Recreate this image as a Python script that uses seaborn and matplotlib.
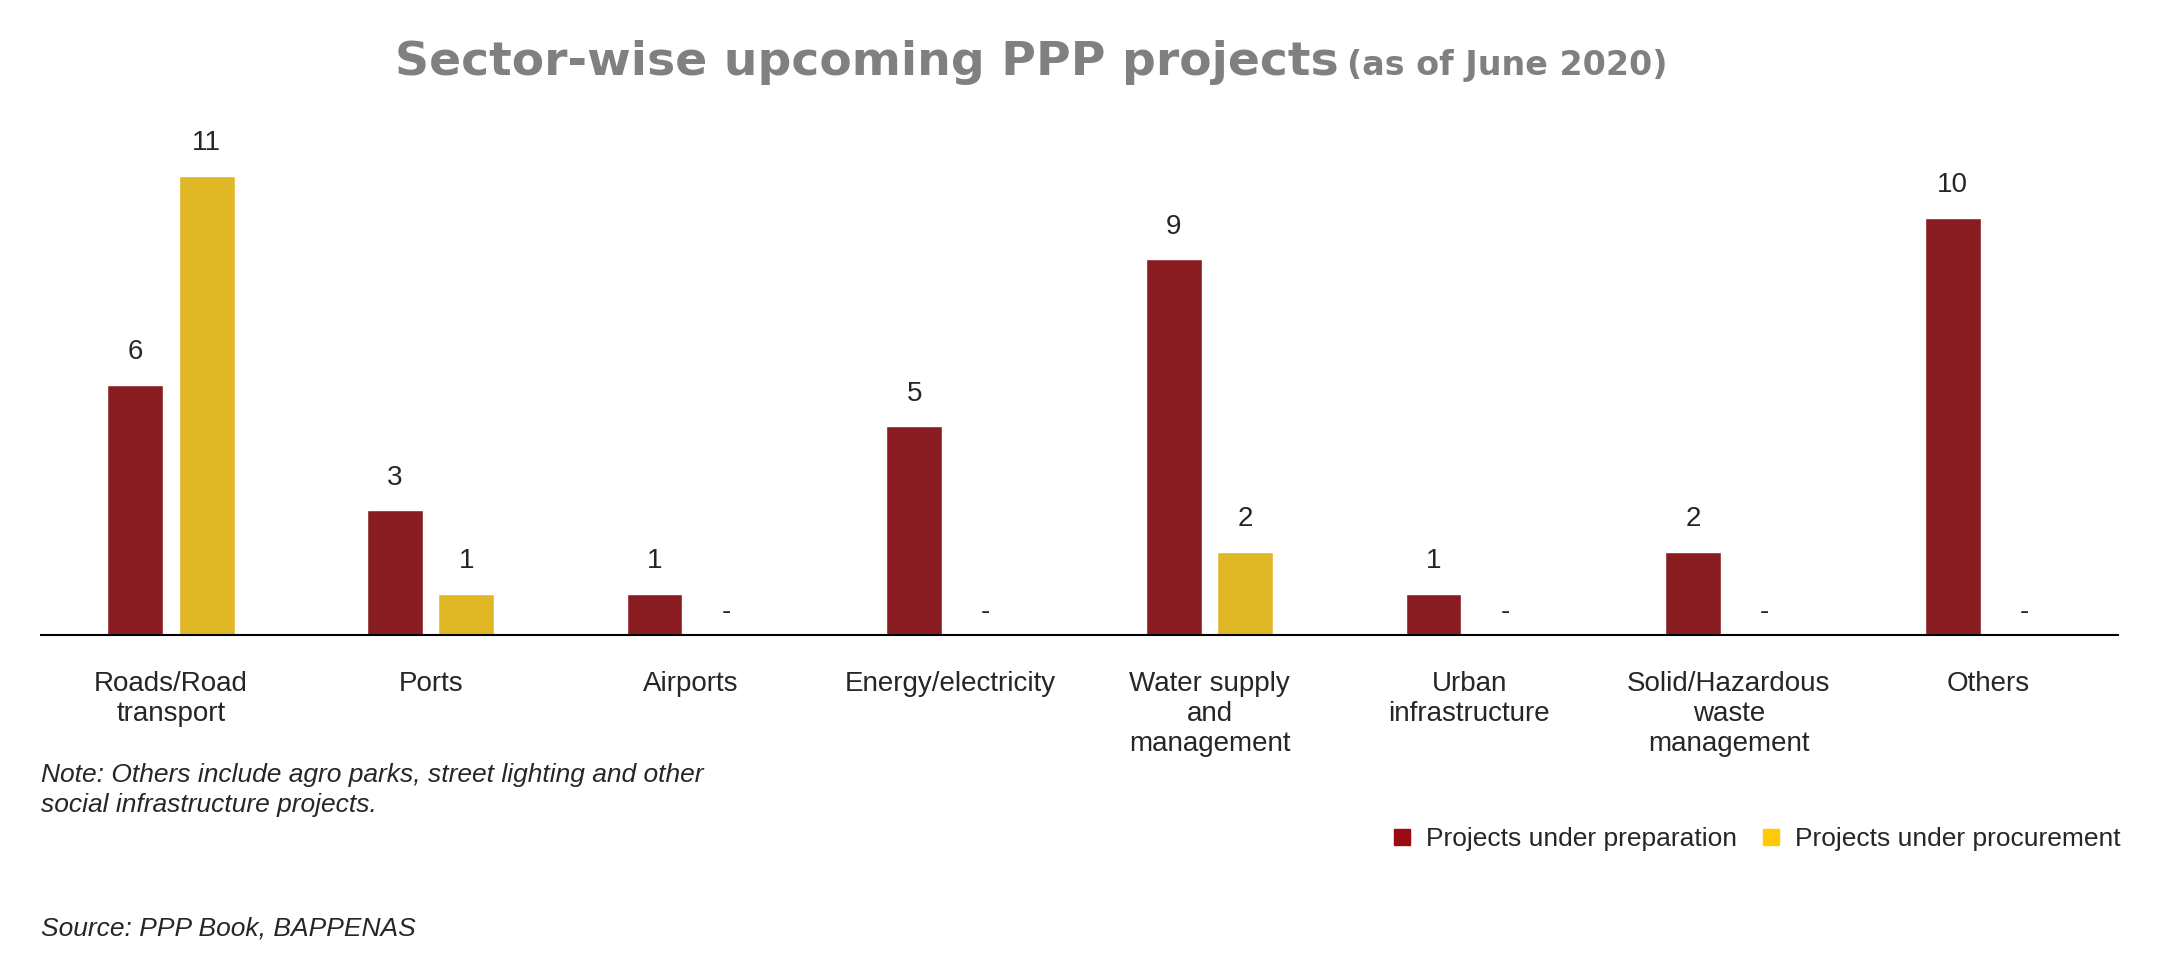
import numpy as np
import pandas as pd
import matplotlib
matplotlib.use("Agg")
import matplotlib.pyplot as plt
import seaborn as sns

sectors = ["Roads/Road\ntransport", "Ports", "Airports", "Energy/electricity",
           "Water supply\nand\nmanagement", "Urban\ninfrastructure",
           "Solid/Hazardous\nwaste\nmanagement", "Others"]
preparation = [6, 3, 1, 5, 9, 1, 2, 10]
procurement = [11, 1, np.nan, np.nan, 2, np.nan, np.nan, np.nan]
series = ["Projects under preparation", "Projects under procurement"]
colors = ["#9B0A10", "#FFC907"]

df = pd.DataFrame({
    "sector": sectors * 2,
    "value": preparation + procurement,
    "series": [series[0]] * len(sectors) + [series[1]] * len(sectors),
})

sns.set_style("white")
plt.rcParams['font.family'] = ['Liberation Sans', 'DejaVu Sans']

fig = plt.figure(figsize=(21.66, 9.67), dpi=100)
ax = fig.add_axes([0.019, 0.343, 0.959, 0.54])
sns.barplot(data=df, x="sector", y="value", hue="series", palette=colors,
            width=0.55, gap=0.22, ax=ax, legend=False)

# value labels, "-" where a series has no projects
for i, vals in enumerate([preparation, procurement]):
    off = -0.1375 if i == 0 else 0.1375
    for j, v in enumerate(vals):
        if np.isnan(v):
            ax.text(j + off, 0.55, "-", ha="center", va="center", fontsize=20)
        else:
            ax.annotate(f"{int(v)}", (j + off, v), xytext=(0, 14),
                        textcoords="offset points", ha="center", va="bottom", fontsize=20)

ax.set_xlim(-0.5, 7.5)
ax.set_ylim(0, 12.5)
ax.set_yticks([])
ax.set_xlabel("")
ax.set_ylabel("")
for s in ["top", "left", "right"]:
    ax.spines[s].set_visible(False)
ax.spines["bottom"].set_color("black")
ax.spines["bottom"].set_linewidth(1.5)
ax.tick_params(axis="x", length=0, pad=26, labelsize=20)

fig.text(0.618, 0.935, "Sector-wise upcoming PPP projects", ha="right", va="center",
         fontsize=34, fontweight="bold", color="#808080",
         family=["Liberation Sans Narrow", "DejaVu Sans"])
fig.text(0.622, 0.932, "(as of June 2020)", ha="left", va="center",
         fontsize=24, fontweight="bold", color="#808080",
         family=["Liberation Sans Narrow", "DejaVu Sans"])

fig.text(0.019, 0.155, "Note: Others include agro parks, street lighting and other\n"
         "social infrastructure projects.", fontsize=19, style="italic",
         va="bottom", linespacing=1.3)
fig.text(0.019, 0.04, "Source: PPP Book, BAPPENAS", fontsize=19, style="italic", va="center")

handles = [plt.Rectangle((0, 0), 1, 1, color=c) for c in colors]
fig.legend(handles, series, loc="center right", bbox_to_anchor=(0.99, 0.132),
           ncol=2, frameon=False, fontsize=19, handlelength=0.6, handleheight=0.6,
           handletextpad=0.6, columnspacing=1.0)

fig.savefig("out.png", dpi=100)
